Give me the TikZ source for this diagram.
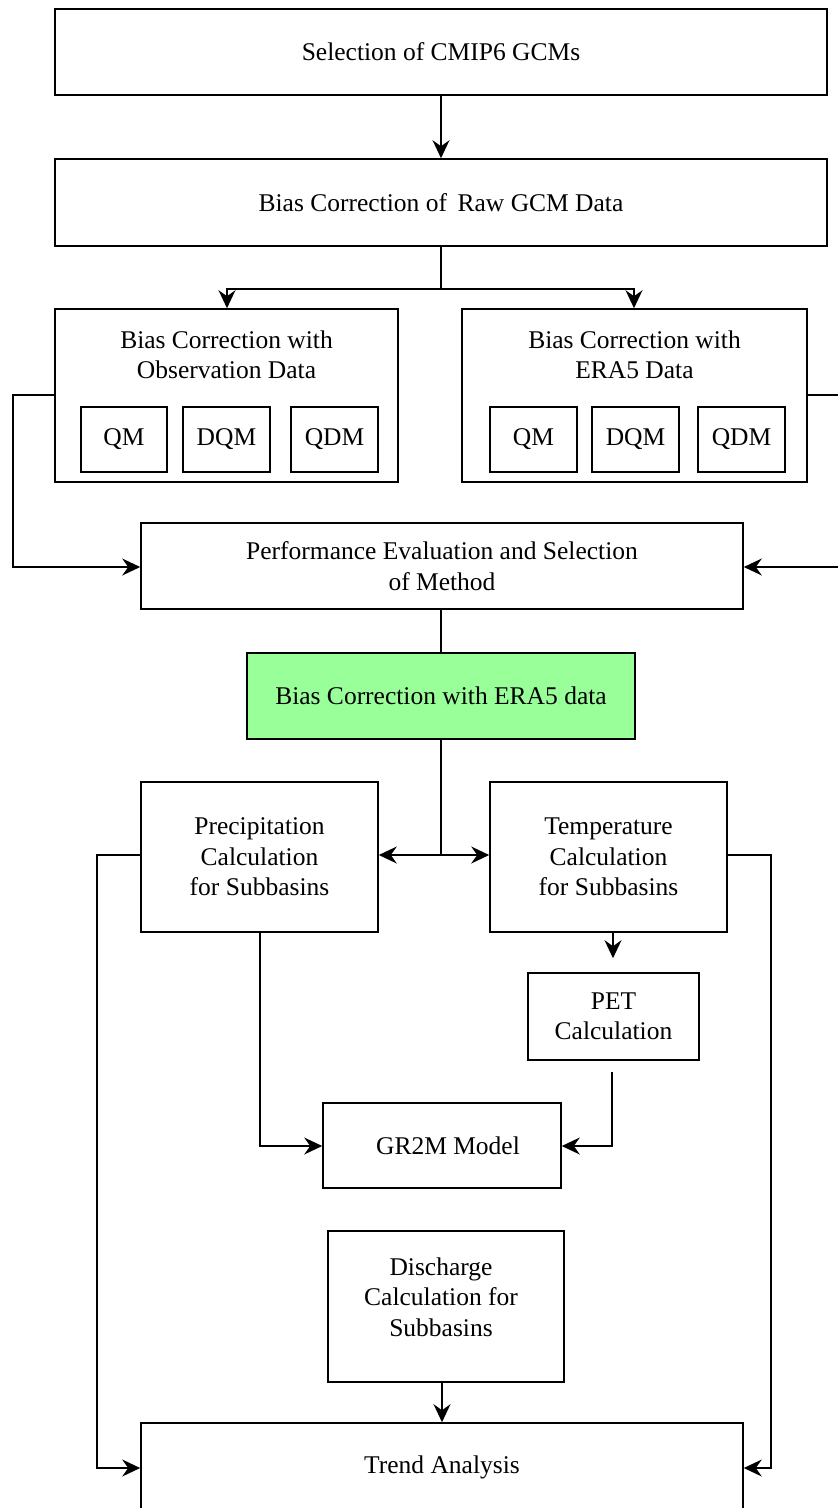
\documentclass[tikz,border=0pt]{standalone}
\usepackage{fontspec}
\setmainfont{Liberation Serif}
\usetikzlibrary{arrows.meta,calc}
\begin{document}
\begin{tikzpicture}[x=1pt,y=-1pt,
  every node/.style={font=\fontsize{25.5}{30.5}\selectfont},
  box/.style={draw=black,line width=1.6pt,rectangle,inner sep=0pt,align=center},
  txt/.style={inner sep=0pt,align=center},
  conn/.style={line width=1.5pt,draw=black},
  arr/.style={conn,-{Stealth[length=18pt,width=17pt,inset=6pt]}}
]
\useasboundingbox (0,0) rectangle (838,1508);
\definecolor{lightgreen}{HTML}{99FF99}
% boxes
\node[box,minimum width=772pt,minimum height=86pt] (top) at (441,52) {Selection of CMIP6 GCMs};
\node[box,minimum width=772pt,minimum height=87pt] (raw) at (441,202.5) {Bias Correction of\, Raw GCM Data};
\node[box,minimum width=343pt,minimum height=173pt] (obs) at (226.5,395.5) {};
\node[txt] (obst) at (226.5,355) {Bias Correction with\\Observation Data};
\node[box,minimum width=345pt,minimum height=173pt] (era) at (634.5,395.5) {};
\node[txt] (erat) at (634.5,355) {Bias Correction with\\ERA5 Data};
\node[box,minimum width=86pt,minimum height=65pt] (oqm) at (124,439.5) {QM};
\node[box,minimum width=87pt,minimum height=65pt] (odqm) at (226.5,439.5) {DQM};
\node[box,minimum width=87pt,minimum height=65pt] (oqdm) at (334.5,439.5) {QDM};
\node[box,minimum width=87pt,minimum height=65pt] (eqm) at (533.5,439.5) {QM};
\node[box,minimum width=87pt,minimum height=65pt] (edqm) at (635.5,439.5) {DQM};
\node[box,minimum width=87pt,minimum height=65pt] (eqdm) at (741.5,439.5) {QDM};
\node[box,minimum width=602pt,minimum height=86pt] (perf) at (442,566) {Performance Evaluation and Selection\\of Method};
\node[box,fill=lightgreen,minimum width=388pt,minimum height=86pt] (green) at (441,696) {Bias Correction with ERA5 data};
\node[box,minimum width=237pt,minimum height=150pt] (precip) at (259.5,857) {Precipitation\\Calculation\\for Subbasins};
\node[box,minimum width=237pt,minimum height=150pt] (temp) at (608.5,857) {Temperature\\Calculation\\for Subbasins};
\node[box,minimum width=171pt,minimum height=87pt] (pet) at (613.5,1016.5) {PET\\Calculation};
\node[box,minimum width=238pt,minimum height=85pt] (gr2m) at (442,1145.5) {};
\node[txt] (gr2mt) at (448,1145.5) {GR2M Model};
\node[box,minimum width=236pt,minimum height=151pt] (disch) at (446,1306.5) {};
\node[txt] (discht) at (441,1297) {Discharge\\Calculation for\\Subbasins};
\node[box,minimum width=602pt,minimum height=89pt] (trend) at (442,1467.5) {Trend Analysis};
% junction coordinates
\coordinate (j1) at (441,289);
\coordinate (j2) at (441,855);
\coordinate (lft1) at (13,395);
\coordinate (lft2) at (13,567);
\coordinate (rgt1) at (848,395);
\coordinate (rgt2) at (848,567);
\coordinate (lft3) at (97,855);
\coordinate (lft4) at (97,1468);
\coordinate (rgt3) at (771,855);
\coordinate (rgt4) at (771,1468);
\coordinate (pa) at (260,1146);
\coordinate (pb) at (612,1146);
% connectors
\draw[arr] (top.south) -- (raw.north);
\draw[conn] (raw.south) -- (j1);
\draw[arr] (j1) -- (227,289) -- (obs.north -| 227,0);
\draw[arr] (j1) -- (634,289) -- (era.north -| 634,0);
\draw[arr] (obs.west |- lft1) -- (lft1) -- (lft2) -- (lft2 -| perf.west);
\draw[arr] (era.east |- rgt1) -- (rgt1) -- (rgt2) -- (rgt2 -| perf.east);
\draw[conn] (green.north |- perf.south) -- (green.north);
\draw[conn] (green.south) -- (j2);
\draw[arr] (j2) -- (j2 -| precip.east);
\draw[arr] (j2) -- (j2 -| temp.west);
\draw[arr] (precip.west |- lft3) -- (lft3) -- (lft4) -- (lft4 -| trend.west);
\draw[arr] (temp.east |- rgt3) -- (rgt3) -- (rgt4) -- (rgt4 -| trend.east);
\draw[arr,shorten >=14pt] (temp.south -| 613,0) -- (pet.north -| 613,0);
\draw[arr] (precip.south -| pa) -- (pa) -- (pa -| gr2m.west);
\draw[arr,shorten <=11pt] (pet.south -| pb) -- (pb) -- (pb -| gr2m.east);
\draw[arr] (disch.south -| trend.north) -- (trend.north);
\end{tikzpicture}
\end{document}
